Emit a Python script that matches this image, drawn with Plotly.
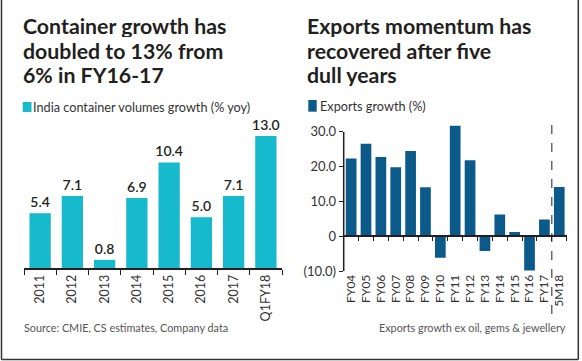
import numpy as np
import plotly.graph_objects as go

W, H = 582, 361

# ---- data ----
left_categories = ["2011", "2012", "2013", "2014", "2015", "2016", "2017", "Q1FY18"]
left_values = [5.4, 7.1, 0.8, 6.9, 10.4, 5.0, 7.1, 13.0]
left_labels = ["5.4", "7.1", "0.8", "6.9", "10.4", "5.0", "7.1", "13.0"]

right_categories = ["FY04", "FY05", "FY06", "FY07", "FY08", "FY09", "FY10", "FY11",
                    "FY12", "FY13", "FY14", "FY15", "FY16", "FY17", "5M18"]
right_values = [22.4, 26.6, 22.8, 19.9, 24.5, 14.1, -6.1, 31.8,
                21.9, -4.2, 6.3, 1.3, -9.8, 4.9, 14.2]
right_tickvals = [-10, 0, 10, 20, 30]
right_ticktext = ["(10.0)", "0", "10.0", "20.0", "30.0"]

CYAN = "#17b9cc"
BLUE = "#0b5a8a"
DARK = "#231f20"
GREY = "#555555"
FONT = "Lato"


def fx(p):
    return p / W


def fy(p):
    return 1 - p / H


fig = go.Figure()

fig.add_trace(go.Bar(
    x=left_categories, y=left_values, text=left_labels, textposition="outside",
    constraintext="none",
    textfont=dict(family=FONT, size=14, color=DARK, weight=600),
    marker=dict(color=CYAN, line=dict(width=0)), xaxis="x", yaxis="y",
    cliponaxis=False, showlegend=False, hoverinfo="skip"))

fig.add_trace(go.Bar(
    x=right_categories, y=right_values, marker=dict(color=BLUE, line=dict(width=0)),
    width=0.72, xaxis="x2", yaxis="y2", showlegend=False, hoverinfo="skip"))

n_r = len(right_categories)
fig.add_trace(go.Scatter(x=[-0.5, n_r - 0.5], y=[0, 0], mode="none", xaxis="x3", yaxis="y2",
                         showlegend=False, hoverinfo="skip"))

y2_range = [-10, 32.5]
y2_dom = [fy(271.3), fy(236 - 32.5 * 3.47)]
zero_pos = y2_dom[0] + (0 - y2_range[0]) / (y2_range[1] - y2_range[0]) * (y2_dom[1] - y2_dom[0])

fig.update_layout(
    width=W, height=H, margin=dict(l=0, r=0, t=0, b=0, autoexpand=False),
    paper_bgcolor="white", plot_bgcolor="rgba(0,0,0,0)",
    bargap=0.34,
    font=dict(family=FONT, color=DARK),
    xaxis=dict(domain=[fx(24), fx(282)], type="category", tickson="boundaries",
               ticks="outside", ticklen=5, tickwidth=1.3, tickcolor=DARK,
               showline=True, linecolor=DARK, linewidth=1.5, tickangle=-90,
               tickfont=dict(family=FONT, size=12.5, color="#333333"),
               showgrid=False, zeroline=False, anchor="y", automargin=False),
    yaxis=dict(domain=[fy(268), fy(268 - 14 * 10.15)], range=[0, 14], visible=False,
               anchor="x", automargin=False),
    xaxis2=dict(domain=[fx(343.7), fx(566.7)], type="category", anchor="y2",
                range=[-0.5, n_r - 0.5], ticks="", showline=False, tickangle=-90,
                tickmode="array", tickvals=right_categories, ticktext=right_categories,
                tickfont=dict(family=FONT, size=12, color="#333333"),
                showgrid=False, zeroline=False, automargin=False),
    xaxis3=dict(overlaying="x2", anchor="free", position=zero_pos,
                range=[-0.5, n_r - 0.5], tickvals=list(np.arange(-0.5, n_r, 1.0)),
                ticks="outside", ticklen=4, tickwidth=1.3, tickcolor=DARK,
                showline=True, linecolor=DARK, linewidth=1.5,
                showticklabels=False, showgrid=False, zeroline=False, automargin=False),
    yaxis2=dict(domain=y2_dom, range=y2_range, anchor="x2",
                tickvals=right_tickvals, ticktext=right_ticktext,
                ticks="outside", ticklen=4, tickwidth=1.3, tickcolor=DARK,
                tickfont=dict(family=FONT, size=13, color="#333333"),
                showline=False, showgrid=False, zeroline=False, automargin=False),
)

shapes = []
# right panel y-axis line from (10.0) to 30.0
shapes.append(dict(type="line", xref="x2 domain", x0=0, x1=0, yref="y2",
                   y0=right_tickvals[0], y1=right_tickvals[-1],
                   line=dict(color=DARK, width=1.5)))
# dashed separator before 5M18
shapes.append(dict(type="line", xref="x3", x0=n_r - 1.5, x1=n_r - 1.5, yref="paper",
                   y0=fy(314), y1=fy(120), line=dict(color=DARK, width=1, dash="dash")))
# legend squares
shapes.append(dict(type="rect", xref="paper", yref="paper", x0=fx(22.7), x1=fx(31.5),
                   y0=fy(112), y1=fy(102), fillcolor=CYAN, line=dict(width=0)))
shapes.append(dict(type="rect", xref="paper", yref="paper", x0=fx(308.3), x1=fx(316.7),
                   y0=fy(111.7), y1=fy(100), fillcolor=BLUE, line=dict(width=0)))
# frame
shapes.append(dict(type="line", xref="paper", yref="paper", x0=fx(1.5), x1=fx(1.5),
                   y0=fy(359.5), y1=1, line=dict(color="#333333", width=1.5)))
shapes.append(dict(type="line", xref="paper", yref="paper", x0=fx(578.3), x1=fx(578.3),
                   y0=fy(359.5), y1=1, line=dict(color="#333333", width=1.5)))
shapes.append(dict(type="line", xref="paper", yref="paper", x0=fx(1.5), x1=fx(578.3),
                   y0=fy(359.5), y1=fy(359.5), line=dict(color="#333333", width=1.5)))
fig.update_layout(shapes=shapes)

ann = []
left_title = ["Container growth has", "doubled to 13% from", "6% in FY16-17"]
right_title = ["Exports momentum has", "recovered after five", "dull years"]
for i, (lt, rt) in enumerate(zip(left_title, right_title)):
    yc = 26 + i * 24.5
    ann.append(dict(text=lt, x=fx(20.5), y=fy(yc), xref="paper", yref="paper",
                    xanchor="left", yanchor="middle", showarrow=False, height=22,
                    font=dict(family=FONT, size=21.3, color=DARK, weight="bold")))
    ann.append(dict(text=rt, x=fx(304.5), y=fy(yc), xref="paper", yref="paper",
                    xanchor="left", yanchor="middle", showarrow=False, height=22,
                    font=dict(family=FONT, size=21.3, color=DARK, weight="bold")))
ann.append(dict(text="India container volumes growth (% yoy)", x=fx(31), y=fy(107),
                xref="paper", yref="paper", xanchor="left", yanchor="middle",
                showarrow=False, font=dict(family=FONT, size=12.7, color="#333333")))
ann.append(dict(text="Exports growth (%)", x=fx(318), y=fy(106),
                xref="paper", yref="paper", xanchor="left", yanchor="middle",
                showarrow=False, font=dict(family=FONT, size=12.7, color="#333333")))
ann.append(dict(text="Source: CMIE, CS estimates, Company data", x=fx(22), y=fy(327),
                xref="paper", yref="paper", xanchor="left", yanchor="middle",
                showarrow=False, font=dict(family=FONT, size=10.8, color=GREY)))
ann.append(dict(text="Exports growth ex oil, gems &amp; jewellery", x=fx(568), y=fy(327),
                xref="paper", yref="paper", xanchor="right", yanchor="middle",
                showarrow=False, font=dict(family=FONT, size=10.8, color=GREY)))
fig.update_layout(annotations=ann)

fig.write_html(
    "out.html",
    config={"displayModeBar": False},
    post_script=("var d=document.getElementById('{plot_id}');"
                 "d.style.position='absolute';d.style.top='0';d.style.left='0';"
                 "document.body.style.margin='0';"
                 "document.documentElement.style.overflow='hidden';"),
)
